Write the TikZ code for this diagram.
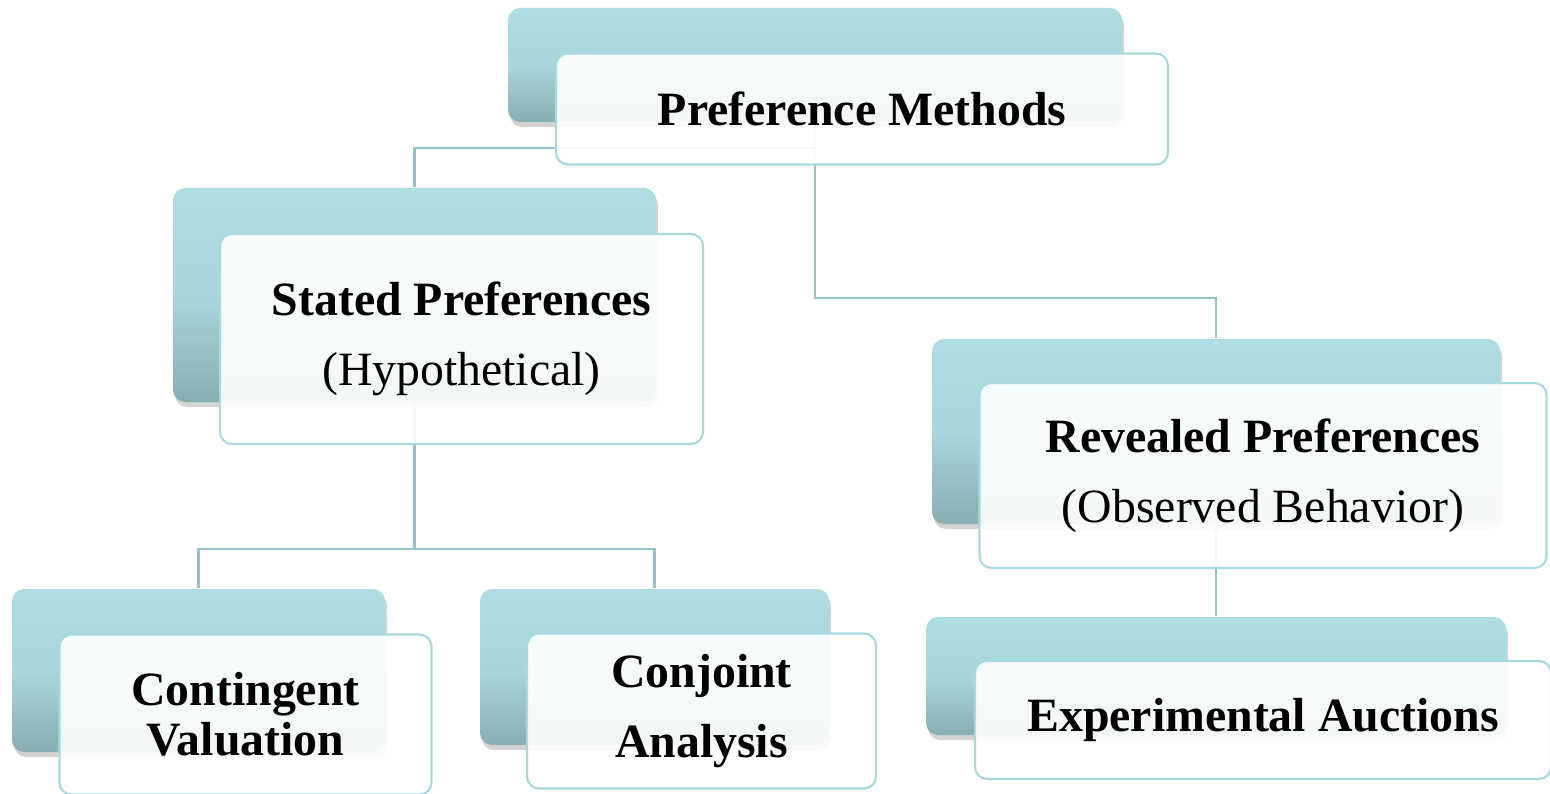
\documentclass[tikz,border=0pt]{standalone}
\usepackage{fontspec}
\setmainfont{Liberation Serif}
\usepackage{tikz}
\usetikzlibrary{positioning,shadows}

\definecolor{tealtop}{HTML}{AEDEE2}
\definecolor{tealbot}{HTML}{87AEB1}
\definecolor{frameline}{HTML}{A9D9DD}
\definecolor{linkline}{HTML}{93C3C8}

\begin{document}
\begin{tikzpicture}[
		backbox/.style={
			rounded corners=0.12cm,
			inner sep=0pt,
			top color=tealtop,
			bottom color=tealbot,
			middle color=tealtop!85!tealbot,
			drop shadow={shadow xshift=0.02cm, shadow yshift=-0.05cm, opacity=0.35}
		},
		frontbox/.style={
			draw=frameline,
			line width=0.6pt,
			rounded corners=0.12cm,
			inner sep=0pt,
			fill=white,
			fill opacity=0.9,
			text opacity=1,
			align=center,
			font=\fontsize{13.6}{20}\selectfont,
			xshift=4.7mm,
			yshift=-4.4mm
		},
		link/.style={
			draw=linkline,
			line width=0.6pt
		}
		]
		
		\useasboundingbox (0,0) rectangle (15.5,-7.94);
		
		% back boxes
		\node (btop) [backbox, minimum width=6.14cm, minimum height=1.14cm] at (8.15,-0.65) {};
		\node (bstated) [backbox, minimum width=4.83cm, minimum height=2.14cm] at (4.145,-2.95) {};
		\node (brev) [backbox, minimum width=5.68cm, minimum height=1.85cm] at (12.16,-4.315) {};
		\node (bcont) [backbox, minimum width=3.73cm, minimum height=1.63cm] at (1.985,-6.705) {};
		\node (bconj) [backbox, minimum width=3.49cm, minimum height=1.56cm] at (6.545,-6.67) {};
		\node (bexp) [backbox, minimum width=5.80cm, minimum height=1.18cm] at (12.16,-6.76) {};
		
		% connectors
		\draw[link] (btop.south) -- ++(0,-0.25) -| (bstated.north);
		\draw[link] (btop.south) -- ++(0,-1.75) -| (brev.north);
		\draw[link] (bstated.south) -- ++(0,-1.46) -| (bcont.north);
		\draw[link] (bstated.south) -- ++(0,-1.46) -| (bconj.north);
		\draw[link] (brev.south) -- (bexp.north);
		
		% front boxes
		\node (ftop) [frontbox, minimum width=6.12cm, minimum height=1.11cm] at (btop) {\textbf{Preference Methods}};
		\node (fstated) [frontbox, minimum width=4.83cm, minimum height=2.10cm] at (bstated) {\textbf{Stated Preferences}\\(Hypothetical)};
		\node (frev) [frontbox, minimum width=5.67cm, minimum height=1.85cm] at (brev) {\textbf{Revealed Preferences}\\(Observed Behavior)};
		\node (fcont) [frontbox, minimum width=3.72cm, minimum height=1.60cm, font=\fontsize{13.6}{14.2}\selectfont] at (bcont) {\textbf{Contingent}\\\textbf{Valuation}};
		\node (fconj) [frontbox, minimum width=3.49cm, minimum height=1.55cm] at (bconj) {\textbf{Conjoint}\\\textbf{Analysis}};
		\node (fexp) [frontbox, minimum width=5.76cm, minimum height=1.18cm] at (bexp) {\textbf{Experimental Auctions}};
		
	\end{tikzpicture}
\end{document}
